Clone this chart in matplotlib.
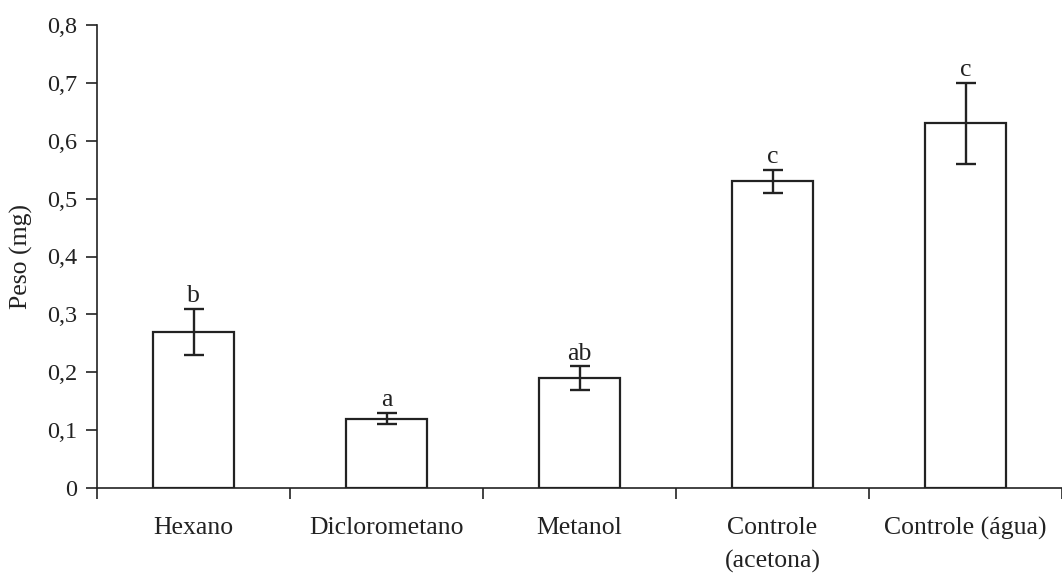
import matplotlib
matplotlib.use("Agg")
import matplotlib.pyplot as plt
import numpy as np
from matplotlib.ticker import FixedLocator, FuncFormatter

categories = ["Hexano", "Diclorometano", "Metanol", "Controle\n(acetona)", "Controle (água)"]
values = [0.27, 0.12, 0.19, 0.53, 0.63]
errors = [0.04, 0.01, 0.02, 0.02, 0.07]
letters = ["b", "a", "ab", "c", "c"]
yticks = [0, 0.1, 0.2, 0.3, 0.4, 0.5, 0.6, 0.7, 0.8]

plt.rcParams['font.family'] = ['Liberation Serif', 'DejaVu Serif']
fs = 18.5

fig = plt.figure(figsize=(10.62, 5.73), dpi=100)
ax = fig.add_axes([97/1062, 85/573, 965/1062, 463/573])

x = np.arange(len(categories))
ax.bar(x, values, width=0.42, color='white', edgecolor='#222222', linewidth=1.6, zorder=2)
ax.errorbar(x, values, yerr=errors, fmt='none', ecolor='#222222', elinewidth=1.7,
            capsize=7, capthick=1.7, zorder=3)
for xi, v, e, l in zip(x, values, errors, letters):
    ax.text(xi, v + e + 0.003, l, ha='center', va='bottom', fontsize=fs, color='#222222')

ax.set_xlim(-0.5, 4.5)
ax.set_ylim(0, 0.8)
ax.set_yticks(yticks)
ax.yaxis.set_major_formatter(FuncFormatter(lambda v, p: "0" if v == 0 else f"{v:.1f}".replace('.', ',')))
ax.set_xticks(x)
ax.set_xticklabels(categories, fontsize=fs, color='#222222', linespacing=1.6)
ax.tick_params(axis='x', which='major', length=0, pad=21)
ax.xaxis.set_minor_locator(FixedLocator(np.arange(-0.5, 4.6, 1.0)))
ax.tick_params(axis='x', which='minor', length=8, width=1.2, color='#222222', direction='out')
ax.tick_params(axis='y', which='major', length=8, width=1.2, color='#222222', labelsize=17.5,
               labelcolor='#222222', pad=6)
for s in ['top', 'right']:
    ax.spines[s].set_visible(False)
for s in ['left', 'bottom']:
    ax.spines[s].set_linewidth(1.2)
    ax.spines[s].set_color('#222222')
ax.set_ylabel("Peso (mg)", fontsize=fs, color='#222222', labelpad=10)

fig.savefig("out.png", dpi=100)
